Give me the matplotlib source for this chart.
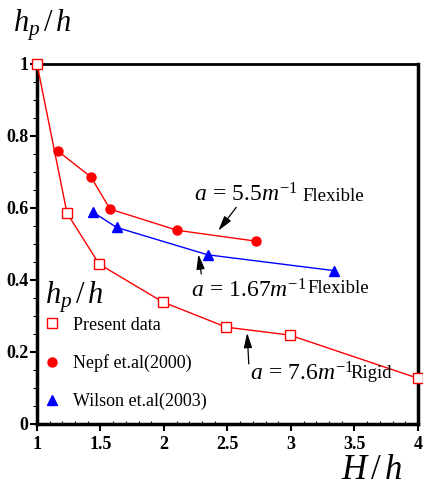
import matplotlib
matplotlib.use("Agg")
import matplotlib.pyplot as plt
from matplotlib.lines import Line2D
from matplotlib.ticker import MultipleLocator, FuncFormatter

plt.rcParams["font.family"] = ["Liberation Serif", "DejaVu Serif"]
plt.rcParams["mathtext.fontset"] = "custom"
plt.rcParams["mathtext.rm"] = "Liberation Serif"
plt.rcParams["mathtext.it"] = "Liberation Serif:italic"

# data
present_x = [1.0, 1.236, 1.49, 1.99, 2.49, 2.99, 4.0]
present_y = [1.0, 0.586, 0.444, 0.339, 0.269, 0.247, 0.127]

nepf_x = [1.165, 1.425, 1.575, 2.105, 2.722]
nepf_y = [0.758, 0.686, 0.597, 0.538, 0.508]

wilson_x = [1.443, 1.627, 2.344, 3.34]
wilson_y = [0.588, 0.546, 0.470, 0.426]

labels = ["Present data", "Nepf et.al(2000)", "Wilson et.al(2003)"]

fig = plt.figure(figsize=(4.23, 4.90), dpi=100)
ax = fig.add_axes([0.0875, 0.1347, 0.9005, 0.7347])

sq = dict(marker="s", ms=7.5, mfc="white", mec="red", mew=1.0)
ci = dict(marker="o", ms=6.5, color="red")
tr = dict(marker="^", ms=6.5, color="blue")

ax.plot(present_x, present_y, color="red", lw=1.0, clip_on=False, zorder=3, **sq)
ax.plot(nepf_x, nepf_y, lw=1.0, zorder=3, **ci)
ax.plot(wilson_x, wilson_y, lw=1.0, zorder=3, **tr)

ax.set_xlim(1, 4)
ax.set_ylim(0, 1)
ax.xaxis.set_major_locator(MultipleLocator(0.5))
ax.xaxis.set_minor_locator(MultipleLocator(0.1))
ax.yaxis.set_major_locator(MultipleLocator(0.2))
ax.yaxis.set_minor_locator(MultipleLocator(0.05))
ax.xaxis.set_major_formatter(FuncFormatter(lambda v, p: f"{v:g}"))
ax.yaxis.set_major_formatter(FuncFormatter(lambda v, p: f"{v:g}"))
ax.tick_params(which="major", direction="out", length=5, width=1.5, labelsize=13)
ax.tick_params(axis="x", which="minor", direction="in", length=2.5, width=0.8)
ax.tick_params(axis="y", which="minor", direction="out", length=3, width=0.8)
for lab in ax.get_xticklabels() + ax.get_yticklabels():
    lab.set_fontweight("bold")
ax.tick_params(axis="y", pad=1)
ax.tick_params(axis="x", pad=4)
for side in ["left", "bottom", "right"]:
    ax.spines[side].set_linewidth(2.5)
ax.spines["top"].set_linewidth(2.0)

# annotations
arrow = dict(arrowstyle="-|>,head_length=0.9,head_width=0.25", color="black", lw=0.9)
ax.annotate("", xy=(2.415, 0.531), xytext=(2.583, 0.608), arrowprops=arrow)
ax.annotate("", xy=(2.268, 0.479), xytext=(2.297, 0.409), arrowprops=arrow)
ax.annotate("", xy=(2.654, 0.261), xytext=(2.669, 0.159), arrowprops=arrow)

ax.text(2.236, 0.617, r"$a\,=\,5.5m^{-1}$", fontsize=17, va="baseline", ha="left")
ax.text(3.09, 0.619, "Flexible", fontsize=13.5, va="baseline", ha="left")
ax.text(2.21, 0.352, r"$a\,=\,1.67m^{-1}$", fontsize=17, va="baseline", ha="left")
ax.text(3.13, 0.363, "Flexible", fontsize=13.5, va="baseline", ha="left")
ax.text(2.677, 0.122, r"$a\,=\,7.6m^{-1}$", fontsize=17, va="baseline", ha="left")
ax.text(3.47, 0.127, "Rigid", fontsize=13.5, va="baseline", ha="left")

# legend: markers only, title drawn as text
handles = [Line2D([], [], ls="none", **sq), Line2D([], [], ls="none", **ci),
           Line2D([], [], ls="none", **tr)]
ax.legend(handles, labels, loc="lower left", bbox_to_anchor=(0.0, 0.02),
          frameon=False, fontsize=13, handlelength=1.0, handletextpad=0.65,
          labelspacing=1.15, borderaxespad=0.0, borderpad=0.35)
ax.text(1.063, 0.336, r"$h_p\,/\,h$", fontsize=22, va="baseline", ha="left")

fig.text(0.03, 0.935, r"$h_p\,/\,h$", fontsize=22, ha="left", va="baseline")
fig.text(0.805, 0.022, r"$H\,/\,h$", fontsize=25, ha="left", va="baseline")

fig.savefig("out.png", dpi=100)
